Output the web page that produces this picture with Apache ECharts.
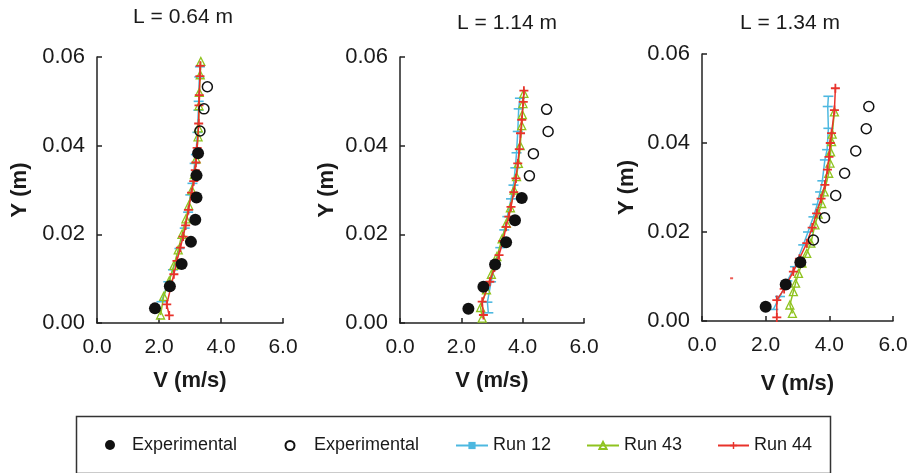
<!DOCTYPE html>
<html>
<head>
<meta charset="utf-8">
<script src="https://cdn.jsdelivr.net/npm/echarts@6/dist/echarts.min.js"></script>
<style>html,body{margin:0;padding:0;background:#fff;}#c{width:913px;height:473px;}</style>
</head>
<body>
<div id="c"></div>
<script>
// ---------- Data ----------
const panelTitles = ['L = 0.64 m', 'L = 1.14 m', 'L = 1.34 m'];
const xTicks = [0, 2, 4, 6];
const yTicks = [0, 0.02, 0.04, 0.06];

// Panel 1 (L = 0.64 m)
const p1ExpFilledV = [1.87, 2.35, 2.73, 3.03, 3.17, 3.21, 3.21, 3.26];
const p1ExpFilledY = [0.0033, 0.0083, 0.0133, 0.0183, 0.0233, 0.0283, 0.0333, 0.0383];
const p1ExpOpenV = [3.32, 3.45, 3.56];
const p1ExpOpenY = [0.0433, 0.0483, 0.0533];
const p1Run12V = [2.08, 2.30, 2.45, 2.66, 2.83, 2.94, 3.01, 3.08, 3.15, 3.19, 3.24, 3.27, 3.28, 3.30, 3.32];
const p1Run12Y = [0.0048, 0.0093, 0.0120, 0.0168, 0.0214, 0.0250, 0.0289, 0.0315, 0.0360, 0.0380, 0.0430, 0.0480, 0.0500, 0.0555, 0.0578];
const p1Run43V = [2.05, 2.15, 2.33, 2.48, 2.62, 2.74, 2.87, 2.96, 3.06, 3.14, 3.20, 3.26, 3.27, 3.29, 3.30, 3.33, 3.35];
const p1Run43Y = [0.0018, 0.0060, 0.0095, 0.0130, 0.0165, 0.0200, 0.0235, 0.0265, 0.0300, 0.0335, 0.0370, 0.0420, 0.0440, 0.0490, 0.0520, 0.0560, 0.0590];
const p1Run44V = [2.33, 2.25, 2.38, 2.48, 2.58, 2.69, 2.78, 2.86, 2.95, 3.05, 3.12, 3.17, 3.19, 3.23, 3.28, 3.29, 3.30, 3.32, 3.33];
const p1Run44Y = [0.0017, 0.0042, 0.0080, 0.0110, 0.0140, 0.0170, 0.0195, 0.0220, 0.0255, 0.0294, 0.0320, 0.0345, 0.0362, 0.0395, 0.0450, 0.0491, 0.0514, 0.0557, 0.0580];

// Panel 2 (L = 1.14 m)
const p2ExpFilledV = [2.23, 2.72, 3.10, 3.46, 3.75, 3.97];
const p2ExpFilledY = [0.0032, 0.0082, 0.0132, 0.0182, 0.0232, 0.0282];
const p2ExpOpenV = [4.22, 4.35, 4.83, 4.78];
const p2ExpOpenY = [0.0332, 0.0382, 0.0432, 0.0482];
const p2Run12V = [2.88, 2.85, 2.97, 3.12, 3.27, 3.40, 3.50, 3.62, 3.70, 3.76, 3.80, 3.84, 3.87, 3.91];
const p2Run12Y = [0.0023, 0.0047, 0.0093, 0.0135, 0.0170, 0.0210, 0.0240, 0.0280, 0.0311, 0.0350, 0.0384, 0.0432, 0.0483, 0.0507];
const p2Run43V = [2.68, 2.63, 2.82, 2.98, 3.16, 3.33, 3.47, 3.60, 3.72, 3.80, 3.86, 3.92, 3.97, 3.99, 4.01, 4.04];
const p2Run43Y = [0.0011, 0.0035, 0.0075, 0.0110, 0.0150, 0.0190, 0.0225, 0.0260, 0.0300, 0.0330, 0.0360, 0.0400, 0.0445, 0.0470, 0.0495, 0.0518];
const p2Run44V = [2.72, 2.68, 2.93, 3.08, 3.23, 3.36, 3.46, 3.55, 3.62, 3.71, 3.78, 3.84, 3.89, 3.93, 3.97, 4.02, 4.04];
const p2Run44Y = [0.0018, 0.0048, 0.0093, 0.0125, 0.0153, 0.0185, 0.0217, 0.0240, 0.0262, 0.0295, 0.0326, 0.0360, 0.0392, 0.0428, 0.0458, 0.0499, 0.0524];

// Panel 3 (L = 1.34 m)
const p3ExpFilledV = [2.00, 2.63, 3.09];
const p3ExpFilledY = [0.0032, 0.0082, 0.0132];
const p3ExpOpenV = [3.50, 3.85, 4.20, 4.48, 4.83, 5.16, 5.24];
const p3ExpOpenY = [0.0182, 0.0232, 0.0282, 0.0332, 0.0382, 0.0432, 0.0482];
const p3Run12V = [2.24, 2.45, 2.68, 2.92, 3.18, 3.33, 3.50, 3.62, 3.71, 3.78, 3.86, 3.93, 3.97, 3.95, 3.97];
const p3Run12Y = [0.0026, 0.0055, 0.0090, 0.0122, 0.0171, 0.0200, 0.0234, 0.0262, 0.0290, 0.0315, 0.0362, 0.0385, 0.0433, 0.0482, 0.0505];
const p3Run43V = [2.84, 2.76, 2.87, 2.94, 3.03, 3.14, 3.29, 3.42, 3.55, 3.65, 3.76, 3.84, 3.98, 4.02, 4.04, 4.07, 4.09, 4.16];
const p3Run43Y = [0.0017, 0.0036, 0.0066, 0.0085, 0.0107, 0.0130, 0.0152, 0.0175, 0.0216, 0.0240, 0.0264, 0.0290, 0.0332, 0.0355, 0.0380, 0.0403, 0.0420, 0.0470];
const p3Run44V = [2.35, 2.35, 2.58, 2.87, 3.06, 3.29, 3.46, 3.60, 3.74, 3.86, 3.94, 3.99, 4.03, 4.07, 4.16, 4.19];
const p3Run44Y = [0.0008, 0.0047, 0.0072, 0.0111, 0.0140, 0.0175, 0.0210, 0.0242, 0.0275, 0.0306, 0.0340, 0.0369, 0.0400, 0.0422, 0.0474, 0.0523];
const p3StrayV = [0.93];
const p3StrayY = [0.0096];

const legendNames = ['Experimental', 'Experimental (outer)', 'Run 12', 'Run 43', 'Run 44'];

// ---------- Build ----------
const FONT = "'Liberation Sans', Arial, Helvetica, sans-serif";
const TXT = '#1a1a1a';
const C12 = '#4db8e0', C43 = '#8fc31f', C44 = '#e8322b';
const PLUS = 'path://M4,0H6V4H10V6H6V10H4V6H0V4H4Z';
const DASH = 'path://M0,0H10V4H0Z';
const zip = (a, b) => a.map((v, i) => [v, b[i]]);

const grids = [
  {left: 97, top: 57, width: 186, height: 266},
  {left: 400, top: 57, width: 184, height: 266},
  {left: 702, top: 54, width: 191, height: 267}
];
const xNameGap = [47, 47, 52];
const yNameGap = [66, 62, 64];

const panels = [
  {f: [p1ExpFilledV, p1ExpFilledY], o: [p1ExpOpenV, p1ExpOpenY], r12: [p1Run12V, p1Run12Y], r43: [p1Run43V, p1Run43Y], r44: [p1Run44V, p1Run44Y]},
  {f: [p2ExpFilledV, p2ExpFilledY], o: [p2ExpOpenV, p2ExpOpenY], r12: [p2Run12V, p2Run12Y], r43: [p2Run43V, p2Run43Y], r44: [p2Run44V, p2Run44Y]},
  {f: [p3ExpFilledV, p3ExpFilledY], o: [p3ExpOpenV, p3ExpOpenY], r12: [p3Run12V, p3Run12Y], r43: [p3Run43V, p3Run43Y], r44: [p3Run44V, p3Run44Y]}
];

const axisLine = {show: true, onZero: false, lineStyle: {color: '#222', width: 1.5}};
const axisTick = {show: true, inside: true, length: 5, lineStyle: {color: '#222', width: 1.5}};

const xAxes = grids.map((g, i) => ({
  type: 'value', gridIndex: i, min: xTicks[0], max: xTicks[xTicks.length - 1], interval: 2,
  axisLine, axisTick, splitLine: {show: false},
  axisLabel: {margin: 14, fontSize: 21, fontFamily: FONT, color: TXT, formatter: v => v.toFixed(1)},
  name: 'V (m/s)', nameLocation: 'middle', nameGap: xNameGap[i],
  nameTextStyle: {fontSize: 22, fontWeight: 'bold', fontFamily: FONT, color: TXT}
}));
const yAxes = grids.map((g, i) => ({
  type: 'value', gridIndex: i, min: yTicks[0], max: yTicks[yTicks.length - 1], interval: 0.02,
  axisLine, axisTick, splitLine: {show: false},
  axisLabel: {margin: 12, fontSize: 22, fontFamily: FONT, color: TXT, formatter: v => v.toFixed(2)},
  name: 'Y (m)', nameLocation: 'middle', nameGap: yNameGap[i],
  nameTextStyle: {fontSize: 22, fontWeight: 'bold', fontFamily: FONT, color: TXT}
}));

const series = [];
panels.forEach((p, i) => {
  series.push({
    name: 'Run 12', type: 'line', xAxisIndex: i, yAxisIndex: i, data: zip(p.r12[0], p.r12[1]),
    symbol: DASH, symbolSize: [10, 4], symbolKeepAspect: true, showAllSymbol: true,
    lineStyle: {color: C12, width: 1.5}, itemStyle: {color: C12}, z: 2, animation: false
  });
  series.push({
    name: 'Run 43', type: 'line', xAxisIndex: i, yAxisIndex: i, data: zip(p.r43[0], p.r43[1]),
    symbol: 'triangle', symbolSize: 8, showAllSymbol: true,
    lineStyle: {color: C43, width: 1.5}, itemStyle: {color: 'rgba(255,255,255,0)', borderColor: C43, borderWidth: 1.3}, z: 3, animation: false
  });
  series.push({
    name: 'Run 44', type: 'line', xAxisIndex: i, yAxisIndex: i, data: zip(p.r44[0], p.r44[1]),
    symbol: PLUS, symbolSize: 9, showAllSymbol: true,
    lineStyle: {color: C44, width: 1.5}, itemStyle: {color: C44}, z: 4, animation: false
  });
  series.push({
    name: 'Experimental', type: 'scatter', xAxisIndex: i, yAxisIndex: i, data: zip(p.f[0], p.f[1]),
    symbol: 'circle', symbolSize: 12, itemStyle: {color: '#111', opacity: 1}, z: 5, animation: false
  });
  series.push({
    name: 'Experimental (outer)', type: 'scatter', xAxisIndex: i, yAxisIndex: i, data: zip(p.o[0], p.o[1]),
    symbol: 'circle', symbolSize: 10, itemStyle: {color: 'rgba(255,255,255,0)', borderColor: '#111', borderWidth: 1.5, opacity: 1}, z: 5, animation: false
  });
});
series.push({
  name: 'stray', type: 'scatter', xAxisIndex: 2, yAxisIndex: 2, data: zip(p3StrayV, p3StrayY),
  symbol: 'rect', symbolSize: [3, 2], itemStyle: {color: C44}, silent: true, animation: false
});

const legendSpec = [
  {name: legendNames[0], left: 105, top: 436, itemWidth: 10, itemHeight: 10, icon: 'circle', pad: 12},
  {name: legendNames[1], left: 284.5, top: 436.5, itemWidth: 9, itemHeight: 9, icon: 'circle', pad: 14.5},
  {name: legendNames[2], left: 455, top: 436.5, itemWidth: 32, itemHeight: 9, pad: 0},
  {name: legendNames[3], left: 586, top: 436.5, itemWidth: 32, itemHeight: 9, pad: 0},
  {name: legendNames[4], left: 717, top: 436.5, itemWidth: 31, itemHeight: 9, pad: 0}
];
const legends = legendSpec.map(s => ({
  left: s.left, top: s.top, itemWidth: s.itemWidth, itemHeight: s.itemHeight, itemGap: 0,
  padding: 0, selectedMode: false,
  textStyle: {fontSize: 18, fontFamily: FONT, color: TXT, padding: [0, 0, 0, s.pad]},
  formatter: n => n.startsWith('Experimental') ? 'Experimental' : n,
  data: [s.icon ? {name: s.name, icon: s.icon} : {name: s.name}]
}));

const graphic = [
  {type: 'rect', left: 74, top: 414, shape: {width: 754, height: 57}, style: {fill: 'none', stroke: '#333', lineWidth: 1.5}, silent: true},
  {type: 'text', x: 183, y: 17, style: {text: panelTitles[0], fontSize: 21, fontFamily: FONT, fill: TXT, align: 'center', verticalAlign: 'middle'}},
  {type: 'text', x: 507, y: 23, style: {text: panelTitles[1], fontSize: 21, fontFamily: FONT, fill: TXT, align: 'center', verticalAlign: 'middle'}},
  {type: 'text', x: 790, y: 23, style: {text: panelTitles[2], fontSize: 21, fontFamily: FONT, fill: TXT, align: 'center', verticalAlign: 'middle'}}
];

const chart = echarts.init(document.getElementById('c'), null, {renderer: 'canvas'});
chart.setOption({
  backgroundColor: '#fff',
  animation: false,
  grid: grids,
  xAxis: xAxes,
  yAxis: yAxes,
  legend: legends,
  graphic,
  series
});
</script>
</body>
</html>
